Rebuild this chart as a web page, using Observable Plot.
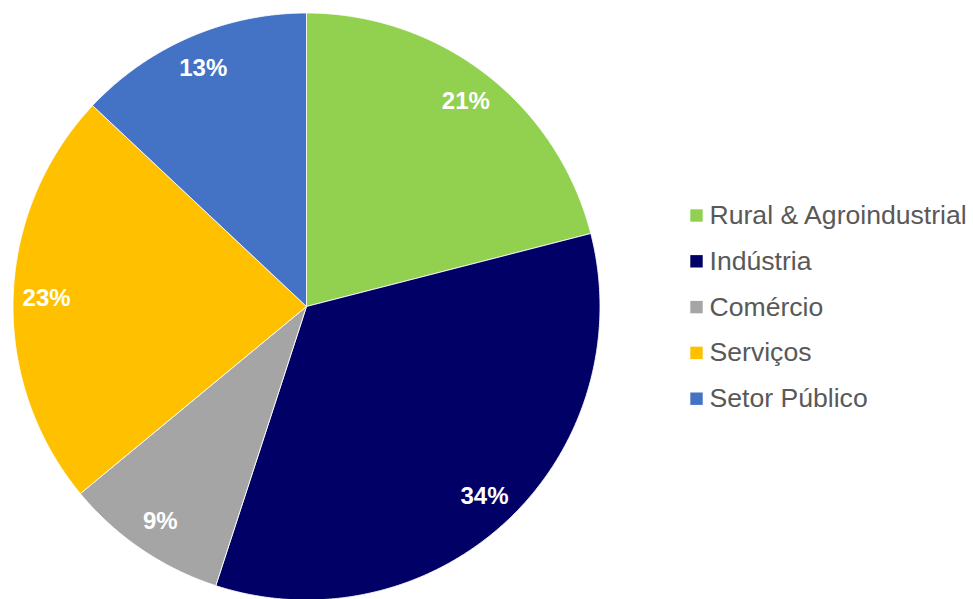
<!DOCTYPE html>
<html>
<head>
<meta charset="utf-8">
<script src="https://cdn.jsdelivr.net/npm/d3@7"></script>
<script src="https://cdn.jsdelivr.net/npm/@observablehq/plot@0.6"></script>
<style>
  html, body { margin: 0; padding: 0; background: #fff; }
  #chart svg { display: block; }
</style>
</head>
<body>
<div id="chart"></div>
<script>
// ---- data ----
const categories = ["Rural & Agroindustrial", "Indústria", "Comércio", "Serviços", "Setor Público"];
const shares = [21, 34, 9, 23, 13];
const colors = ["#92D050", "#000066", "#A5A5A5", "#FFC000", "#4472C4"];

// ---- layout (pixels) ----
const W = 973, H = 599;
const CX = 306, CY = 306, R = 293.5;
const toX = px => (px - CX) / R;
const toY = py => (CY - py) / R;

// ---- slices via d3.pie ----
const arcs = d3.pie().sort(null).value(d => d)(shares);
const slicePts = [];
arcs.forEach((a, i) => {
  const cat = categories[i];
  slicePts.push({cat, x: 0, y: 0});
  const n = Math.max(2, Math.ceil((a.endAngle - a.startAngle) / 0.005));
  for (let k = 0; k <= n; k++) {
    const t = a.startAngle + (a.endAngle - a.startAngle) * k / n;
    slicePts.push({cat, x: Math.sin(t), y: Math.cos(t)});
  }
  slicePts.push({cat, x: 0, y: 0});
});

const total = d3.sum(shares);
const labelR = 0.886;
const labels = arcs.map((a, i) => {
  const m = (a.startAngle + a.endAngle) / 2;
  return {x: labelR * Math.sin(m), y: labelR * Math.cos(m), text: Math.round(100 * shares[i] / total) + "%"};
});

const legend = categories.map((c, i) => ({cat: c, y: toY(215 + i * 45.8)}));

const font = "Liberation Sans, Arial, Helvetica, sans-serif";

const chart = Plot.plot({
  width: W,
  height: H,
  margin: 0,
  style: {fontFamily: font, background: "#fff"},
  x: {type: "linear", domain: [toX(0), toX(W)], axis: null},
  y: {type: "linear", domain: [toY(H), toY(0)], axis: null},
  color: {domain: categories, range: colors},
  marks: [
    Plot.line(slicePts, {x: "x", y: "y", z: "cat", fill: "cat", stroke: "#ffffff", strokeWidth: 1, strokeOpacity: 0.85, curve: "linear"}),
    Plot.text(labels, {x: "x", y: "y", text: "text", fill: "white", fontWeight: "bold", fontSize: 24}),
    Plot.dot(legend, {x: toX(696), y: "y", symbol: "square", r: 7, fill: "cat", stroke: null}),
    Plot.text(legend, {x: toX(709), y: "y", text: "cat", textAnchor: "start", fontSize: 26.6, fill: "#595959"})
  ]
});
document.getElementById("chart").appendChild(chart);
</script>
</body>
</html>
